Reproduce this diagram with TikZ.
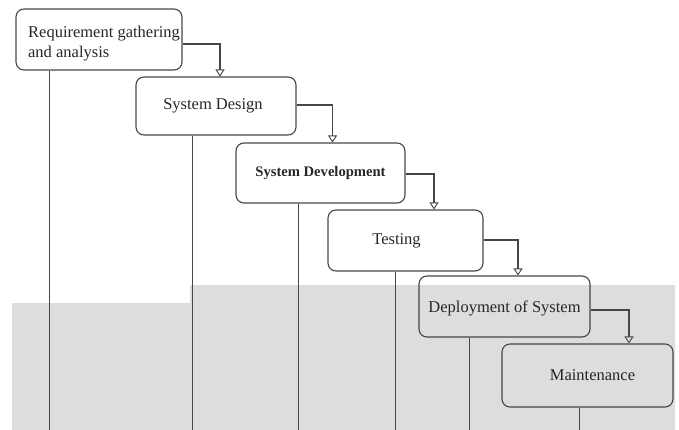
\documentclass[tikz,border=0pt]{standalone}
\usepackage{fontspec}
\setmainfont{Liberation Serif}
\usetikzlibrary{arrows.meta}
\definecolor{bggray}{RGB}{221,221,221}
\definecolor{linegray}{RGB}{70,70,70}
\begin{document}
\begin{tikzpicture}[x=1pt,y=-1pt,
  stagebox/.style={draw=linegray, line width=1.1pt, rounded corners=8pt, inner sep=0pt, font=\fontsize{16.5}{20}\selectfont, text=black!85},
  flow/.style={draw=linegray, line width=1.1pt, -{Triangle[open, width=9pt, length=7pt, line width=0.9pt]}},
  drop/.style={draw=linegray, line width=1.3pt}
]
\useasboundingbox (0,0) rectangle (679,430);
% grey band
\fill[bggray] (12,303) -- (190,303) -- (190,285) -- (675,285) -- (675,430) -- (12,430) -- cycle;
\coordinate (bot) at (0,430);

\node[stagebox, minimum width=166pt, minimum height=61pt] (req) at (99,39.5)
  {\hspace*{10pt}\raisebox{-4pt}[\height][\depth]{\begin{tabular}{@{}l@{}}Requirement gathering\\and analysis\end{tabular}}};
\node[stagebox, minimum width=160pt, minimum height=58pt] (des) at (216,106) {System Design\hspace*{6pt}};
\node[stagebox, minimum width=169pt, minimum height=60pt, font=\fontsize{14.6}{18}\selectfont\bfseries] (dev) at (320.5,173) {System Development};
\node[stagebox, minimum width=155pt, minimum height=61pt] (tes) at (405.5,240.5) {Testing\hspace*{18pt}};
\node[stagebox, minimum width=171pt, minimum height=61pt] (dep) at (504.5,306.5) {\raisebox{-2pt}[\height][\depth]{Deployment of System}};
\node[stagebox, minimum width=171pt, minimum height=63pt] (mai) at (587.5,375.5) {\hspace*{10pt}Maintenance};

% connectors
\draw[flow] ([yshift=-4.5pt]req.east) -| ([xshift=4pt]des.north);
\draw[flow] ([yshift=1pt]des.east) -| ([xshift=12pt]dev.north);
\draw[flow] ([yshift=-1pt]dev.east) -| ([xshift=28.5pt]tes.north);
\draw[flow] ([yshift=0.5pt]tes.east) -| ([xshift=13.5pt]dep.north);
\draw[flow] ([yshift=-3.5pt]dep.east) -| ([xshift=41.5pt]mai.north);

% drop lines
\draw[drop] ([xshift=34pt]req.south west) -- ([xshift=34pt]req.south west |- bot);
\draw[drop] ([xshift=57pt]des.south west) -- ([xshift=57pt]des.south west |- bot);
\draw[drop] ([xshift=63pt]dev.south west) -- ([xshift=63pt]dev.south west |- bot);
\draw[drop] ([xshift=68pt]tes.south west) -- ([xshift=68pt]tes.south west |- bot);
\draw[drop] ([xshift=51pt]dep.south west) -- ([xshift=51pt]dep.south west |- bot);
\draw[drop] ([xshift=78pt]mai.south west) -- ([xshift=78pt]mai.south west |- bot);
\end{tikzpicture}
\end{document}
